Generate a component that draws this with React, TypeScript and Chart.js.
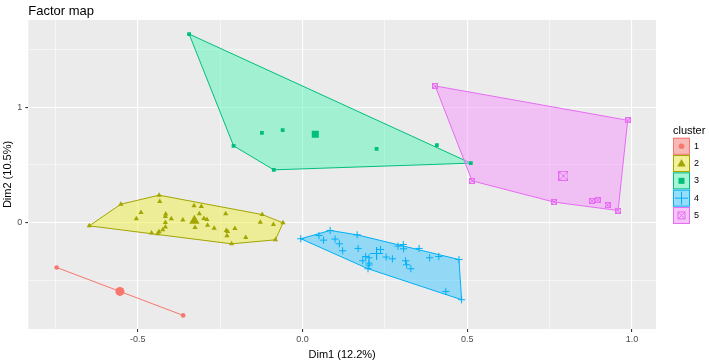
import React, { useEffect, useRef } from "react";
import { Chart, registerables } from "chart.js";
Chart.register(...registerables);

const FONT = "'Liberation Sans', Arial, Helvetica, sans-serif";

const chartTitle = "Factor map";
const xTitle = "Dim1 (12.2%)";
const yTitle = "Dim2 (10.5%)";
const legendTitle = "cluster";
const clusterNames = ["1", "2", "3", "4", "5"];
const lineColors = ["#F8766D", "#A3A500", "#00BF7D", "#00B0F6", "#E76BF3"];
const fillColors = [
  "rgba(248,118,109,0.45)",
  "rgba(240,240,70,0.5)",
  "rgba(90,245,185,0.5)",
  "rgba(60,200,255,0.5)",
  "rgba(245,150,255,0.5)",
];

const xMajor = [-0.5, 0, 0.5, 1.0];
const xMinor = [-0.75, -0.25, 0.25, 0.75];
const yMajor = [0, 1];
const yMinor = [-0.5, 0.5, 1.5];
const xRange = [-0.832, 1.073];
const yRange = [-0.924, 1.757];

// cluster 1
const c1x = [-0.746, -0.362];
const c1y = [-0.39, -0.806];
const hull1 = [0, 1];
// cluster 2
const c2x = [-0.647, -0.551, -0.435, -0.433, -0.49, -0.504, -0.415, -0.416, -0.398, -0.416, -0.416, -0.424, -0.435, -0.439, -0.458, -0.363, -0.329, -0.307, -0.313, -0.299, -0.29, -0.326, -0.288, -0.268, -0.233, -0.231, -0.227, -0.205, -0.229, -0.215, -0.172, -0.122, -0.128, -0.088, -0.059, -0.082];
const c2y = [-0.029, 0.159, 0.237, 0.182, 0.087, 0.032, 0.073, 0.052, 0.032, 0.0, -0.04, -0.063, -0.081, -0.098, -0.092, 0.021, 0.145, 0.139, 0.075, 0.035, 0.026, -0.043, -0.023, -0.049, 0.075, -0.069, -0.078, -0.052, -0.115, -0.185, -0.13, 0.069, 0.003, -0.017, -0.003, -0.15];
const hull2 = [0, 1, 2, 31, 34, 35, 29];
// cluster 3
const c3x = [-0.344, -0.209, -0.087, 0.511, 0.408, -0.123, -0.06, 0.225];
const c3y = [1.635, 0.665, 0.457, 0.515, 0.671, 0.777, 0.801, 0.639];
const hull3 = [0, 3, 2, 1];
// cluster 4
const c4x = [-0.005, 0.084, 0.05, 0.064, 0.099, 0.112, 0.122, 0.166, 0.169, 0.192, 0.202, 0.183, 0.202, 0.202, 0.199, 0.237, 0.254, 0.273, 0.29, 0.306, 0.307, 0.313, 0.316, 0.329, 0.354, 0.386, 0.414, 0.475, 0.435, 0.483];
const c4y = [-0.141, -0.069, -0.113, -0.153, -0.144, -0.185, -0.245, -0.107, -0.225, -0.295, -0.306, -0.332, -0.352, -0.369, -0.401, -0.234, -0.3, -0.315, -0.205, -0.191, -0.228, -0.332, -0.367, -0.401, -0.225, -0.306, -0.295, -0.321, -0.598, -0.67];
const hull4 = [0, 1, 7, 27, 29, 14];
// cluster 5
const c5x = [0.403, 0.987, 0.958, 0.926, 0.896, 0.879, 0.764, 0.515];
const c5y = [1.185, 0.887, 0.104, 0.151, 0.194, 0.188, 0.177, 0.361];
const hull5 = [0, 1, 2, 6, 7];

const centroidX = [-0.554, -0.328, 0.039, 0.225, 0.792];
const centroidY = [-0.598, 0.015, 0.766, -0.269, 0.405];

const allX = [c1x, c2x, c3x, c4x, c5x];
const allY = [c1y, c2y, c3y, c4y, c5y];
const allHull = [hull1, hull2, hull3, hull4, hull5];

function makeSquareX(size: number, color: string) {
  const c = document.createElement("canvas");
  c.width = size;
  c.height = size;
  const g = c.getContext("2d")!;
  g.strokeStyle = color;
  g.lineWidth = 1;
  g.strokeRect(0.5, 0.5, size - 1, size - 1);
  g.beginPath();
  g.moveTo(0.5, 0.5);
  g.lineTo(size - 0.5, size - 0.5);
  g.moveTo(size - 0.5, 0.5);
  g.lineTo(0.5, size - 0.5);
  g.stroke();
  return c;
}

const isMember = (arr: number[], v: number) => arr.some((a) => Math.abs(a - v) < 1e-9);

export default function App() {
  const ref = useRef<HTMLCanvasElement>(null);
  useEffect(() => {
    const canvas = ref.current!;
    const sqSmall = makeSquareX(6, lineColors[4]);
    const sqBig = makeSquareX(10, lineColors[4]);
    const styles: any[] = ["circle", "triangle", "rect", "cross", sqSmall];
    const bigStyles: any[] = ["circle", "triangle", "rect", "cross", sqBig];
    const radii = [2.3, 3, 2.7, 3.6, 3];
    const bigRadii = [4.5, 6, 5, 6.5, 5];

    const pointSets: any[] = [];
    const centroidSets: any[] = [];
    const hullSets: any[] = [];
    for (let i = 0; i < 5; i++) {
      const xs = allX[i];
      const ys = allY[i];
      const filled = i !== 3 && i !== 4;
      pointSets.push({
        type: "scatter",
        data: xs.map((x, j) => ({ x, y: ys[j] })),
        pointStyle: styles[i],
        pointRadius: radii[i],
        backgroundColor: filled ? lineColors[i] : "transparent",
        borderColor: lineColors[i],
        borderWidth: filled ? 0 : 1,
        showLine: false,
      });
      centroidSets.push({
        type: "scatter",
        data: [{ x: centroidX[i], y: centroidY[i] }],
        pointStyle: bigStyles[i],
        pointRadius: bigRadii[i],
        backgroundColor: filled ? lineColors[i] : "transparent",
        borderColor: lineColors[i],
        borderWidth: filled ? 0 : 1.2,
        showLine: false,
      });
      const h = allHull[i];
      const pts = h.map((k) => ({ x: xs[k], y: ys[k] }));
      if (h.length > 2) pts.push({ x: xs[h[0]], y: ys[h[0]] });
      hullSets.push({
        type: "line",
        data: pts,
        borderColor: lineColors[i],
        borderWidth: 1,
        backgroundColor: fillColors[i],
        fill: h.length > 2 ? "shape" : false,
        pointRadius: 0,
        tension: 0,
      });
    }
    const datasets = [...centroidSets, ...pointSets, ...hullSets.slice().reverse()];

    const bgPlugin = {
      id: "bg",
      beforeDraw(chart: any) {
        const { ctx, chartArea: a } = chart;
        ctx.save();
        ctx.fillStyle = "#EBEBEB";
        ctx.fillRect(a.left, a.top, a.right - a.left, a.bottom - a.top);
        ctx.restore();
      },
      afterDraw(chart: any) {
        const { ctx, chartArea: a } = chart;
        ctx.save();
        // title
        ctx.fillStyle = "#000";
        ctx.font = `13px ${FONT}`;
        ctx.textBaseline = "middle";
        ctx.textAlign = "left";
        ctx.fillText(chartTitle, a.left, 11);
        // legend
        const lx = a.right + 17;
        const keyH = 17.3;
        const titleH = 13;
        const mid = (a.top + a.bottom) / 2;
        let y = mid - (titleH + keyH * 5) / 2;
        ctx.font = `11px ${FONT}`;
        ctx.fillText(legendTitle, lx, y + 6);
        y += titleH;
        for (let i = 0; i < 5; i++) {
          const by = y + i * keyH;
          ctx.fillStyle = "#F2F2F2";
          ctx.fillRect(lx, by, 17, 17);
          ctx.fillStyle = fillColors[i];
          ctx.fillRect(lx, by, 17, 17);
          ctx.strokeStyle = lineColors[i];
          ctx.lineWidth = 1;
          ctx.strokeRect(lx + 0.5, by + 0.5, 16, 16);
          const cx = lx + 8.5;
          const cy = by + 8.5;
          ctx.fillStyle = lineColors[i];
          ctx.beginPath();
          if (i === 0) {
            ctx.arc(cx, cy, 2.8, 0, Math.PI * 2);
            ctx.fill();
          } else if (i === 1) {
            ctx.moveTo(cx, cy - 4.5);
            ctx.lineTo(cx + 4.2, cy + 3);
            ctx.lineTo(cx - 4.2, cy + 3);
            ctx.closePath();
            ctx.fill();
          } else if (i === 2) {
            ctx.fillRect(cx - 3, cy - 3, 6, 6);
          } else if (i === 3) {
            ctx.moveTo(cx - 6.5, cy);
            ctx.lineTo(cx + 6.5, cy);
            ctx.moveTo(cx, cy - 6.5);
            ctx.lineTo(cx, cy + 6.5);
            ctx.stroke();
          } else {
            ctx.strokeRect(cx - 3.5, cy - 3.5, 7, 7);
            ctx.moveTo(cx - 3.5, cy - 3.5);
            ctx.lineTo(cx + 3.5, cy + 3.5);
            ctx.moveTo(cx + 3.5, cy - 3.5);
            ctx.lineTo(cx - 3.5, cy + 3.5);
            ctx.stroke();
          }
          ctx.fillStyle = "#000";
          ctx.font = `9px ${FONT}`;
          ctx.fillText(clusterNames[i], lx + 21, cy);
        }
        ctx.restore();
      },
    };

    const chart = new Chart(canvas, {
      type: "scatter",
      data: { datasets },
      options: {
        animation: false,
        responsive: false,
        devicePixelRatio: 1,
        layout: { padding: { top: 20, right: 53, left: 0, bottom: 0 } },
        plugins: { legend: { display: false }, tooltip: { enabled: false }, title: { display: false } },
        scales: {
          x: {
            type: "linear",
            min: xRange[0],
            max: xRange[1],
            afterBuildTicks: (s: any) => {
              s.ticks = [...xMinor, ...xMajor].sort((a, b) => a - b).map((v) => ({ value: v }));
            },
            afterFit: (s: any) => {
              s.height = 33;
            },
            ticks: {
              autoSkip: false,
              maxRotation: 0,
              padding: 2,
              color: "#4D4D4D",
              font: { size: 9, family: FONT },
              callback: (v: any) => (isMember(xMajor, Number(v)) ? Number(v).toFixed(1) : ""),
            },
            grid: {
              color: "#FFFFFF",
              lineWidth: (c: any) => (isMember(xMajor, c.tick?.value) ? 1.1 : 0.55),
              tickColor: (c: any) => (isMember(xMajor, c.tick?.value) ? "#333333" : "rgba(0,0,0,0)"),
              tickLength: 3,
              drawTicks: true,
            },
            border: { display: false },
            title: { display: true, text: xTitle, color: "#000", font: { size: 11, family: FONT }, padding: { top: 1.5, bottom: 0 } },
          },
          y: {
            type: "linear",
            min: yRange[0],
            max: yRange[1],
            afterBuildTicks: (s: any) => {
              s.ticks = [...yMinor, ...yMajor].sort((a, b) => a - b).map((v) => ({ value: v }));
            },
            afterFit: (s: any) => {
              s.width = 28.3;
            },
            ticks: {
              autoSkip: false,
              padding: 3,
              color: "#4D4D4D",
              font: { size: 9, family: FONT },
              callback: (v: any) => (isMember(yMajor, Number(v)) ? String(Number(v)) : ""),
            },
            grid: {
              color: "#FFFFFF",
              lineWidth: (c: any) => (isMember(yMajor, c.tick?.value) ? 1.1 : 0.55),
              tickColor: (c: any) => (isMember(yMajor, c.tick?.value) ? "#333333" : "rgba(0,0,0,0)"),
              tickLength: 3,
              drawTicks: true,
            },
            border: { display: false },
            title: { display: true, text: yTitle, color: "#000", font: { size: 11, family: FONT }, padding: { top: 1.5, bottom: 0 } },
          },
        },
      } as any,
      plugins: [bgPlugin],
    });
    return () => chart.destroy();
  }, []);
  return (
    <div style={{ position: "fixed", left: 0, top: 0, width: 709, height: 362, background: "#fff" }}>
      <canvas ref={ref} width={709} height={362} style={{ display: "block", width: 709, height: 362 }} />
    </div>
  );
}
